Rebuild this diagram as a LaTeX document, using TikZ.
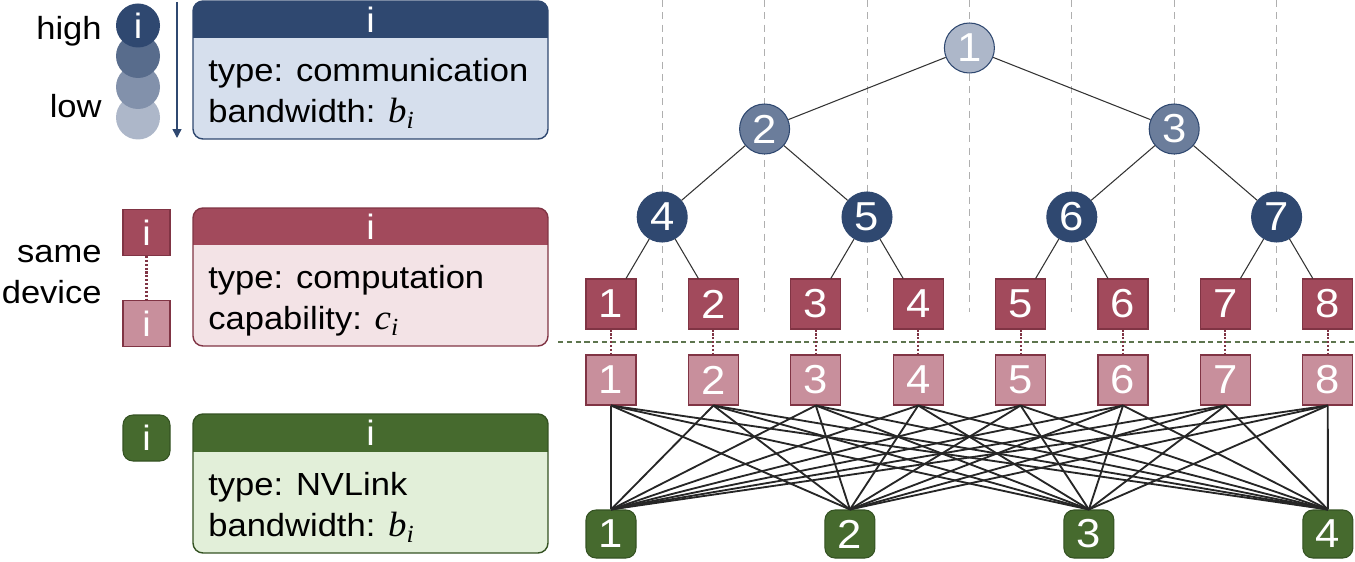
\documentclass[tikz,border=0pt]{standalone}
\usepackage{fontspec}
\setmainfont{Liberation Sans}[FakeStretch=1.08]
\newfontfamily\symbfont{Liberation Serif}[FakeStretch=1.05]
\usetikzlibrary{arrows.meta, positioning, calc}
\definecolor{navyA}{RGB}{47,72,112}
\definecolor{navyB}{RGB}{88,108,140}
\definecolor{navyC}{RGB}{130,145,171}
\definecolor{navyD}{RGB}{173,183,201}
\definecolor{navyMid}{RGB}{107,125,155}
\definecolor{commbg}{RGB}{214,223,237}
\definecolor{compdark}{RGB}{162,74,92}
\definecolor{complight}{RGB}{200,143,156}
\definecolor{compborder}{RGB}{128,52,68}
\definecolor{compbg}{RGB}{243,227,230}
\definecolor{linkgreen}{RGB}{70,106,46}
\definecolor{linkborder}{RGB}{52,82,34}
\definecolor{linkbg}{RGB}{226,239,217}
\definecolor{guidegray}{RGB}{175,175,175}
\newcommand{\nodenumfont}{\fontsize{23}{27}\selectfont}
\newcommand{\idxfont}{\fontsize{20}{24}\selectfont}
\newcommand{\legendfont}{\fontsize{18.2}{23.3}\selectfont}
\newcommand{\symb}[2]{{\symbfont\itshape\fontsize{20}{24}\selectfont #1}\raisebox{-0.4ex}{\symbfont\itshape\fontsize{14}{16}\selectfont #2}}

\begin{document}
\begin{tikzpicture}[
  commnode/.style={circle, draw=navyA, line width=0.6pt, minimum size=1cm, inner sep=0pt, text=white, font=\nodenumfont},
  levelmark/.style={circle, minimum size=0.88cm, inner sep=0pt, text=white, font=\idxfont},
  compnode/.style={rectangle, draw=compborder, line width=0.6pt, fill=compdark, minimum size=1cm, inner sep=0pt, text=white, font=\nodenumfont},
  devnode/.style={compnode, fill=complight},
  linknode/.style={rectangle, rounded corners=0.2cm, draw=linkborder, line width=0.6pt, fill=linkgreen, minimum width=1cm, minimum height=0.96cm, inner sep=0pt, text=white, font=\nodenumfont},
  smallmark/.style={minimum width=0.94cm, minimum height=0.92cm, font=\idxfont},
  sidetext/.style={anchor=base east, inner sep=0pt, font=\legendfont},
  headtext/.style={text=white, inner sep=0pt, font=\idxfont},
  bodytext/.style={anchor=west, align=left, inner sep=0pt, font=\legendfont},
  edge/.style={draw=black!80, line width=0.6pt},
  wire/.style={draw=black!85, line width=1.05pt},
  samedev/.style={draw=compborder, densely dotted, line width=1.2pt},
  guide/.style={draw=guidegray, dash pattern=on 4pt off 3pt, line width=0.5pt},
]
\useasboundingbox (0,0) rectangle (27.1,11.22);

% guide lines behind the tree
\foreach \k in {1,...,7}
  \draw[guide] ({12.22+2.048*(\k-0.5)},11.22) -- ++(0,-6.24);
\draw[linkborder!80, dash pattern=on 3pt off 2pt, line width=0.6pt] (11.16,4.38) -- (27.1,4.38);

% Legend: communication levels
\node[sidetext] (hi) at (2.04,10.42) {high};
\node[sidetext] (lo) at (2.04,8.86) {low};
\node[levelmark, fill=navyD] (s4) at (2.76,8.87) {};
\node[levelmark, fill=navyC] (s3) at (2.76,9.48) {};
\node[levelmark, fill=navyB] (s2) at (2.76,10.10) {};
\node[levelmark, fill=navyA] (s1) at (2.76,10.71) {i};
\draw[navyA, line width=0.8pt, -{Triangle[width=5pt,length=5pt]}] (3.54,11.18) -- (3.54,8.46);

\begin{scope}
  \clip[rounded corners=0.2cm] (3.86,8.44) rectangle (10.96,11.2);
  \fill[commbg] (3.86,8.44) rectangle (10.96,11.2);
  \fill[navyA] (3.86,10.46) rectangle (10.96,11.2);
\end{scope}
\draw[navyA, line width=0.8pt, rounded corners=0.2cm] (3.86,8.44) rectangle (10.96,11.2);
\node[headtext] (h1) at (7.41,10.83) {i};
\node[bodytext] (t1) at (4.16,9.35) {type: communication\\bandwidth: \symb{b}{i}};

% Legend: computation
\node[sidetext] (sa) at (2.04,5.98) {same};
\node[sidetext] (de) at (2.04,5.16) {device};
\node[compnode, smallmark] (lc) at (2.93,6.57) {i};
\node[devnode, smallmark] (ld) at (2.93,4.75) {i};
\draw[samedev] (lc) -- (ld);

\begin{scope}
  \clip[rounded corners=0.2cm] (3.86,4.30) rectangle (10.96,7.06);
  \fill[compbg] (3.86,4.30) rectangle (10.96,7.06);
  \fill[compdark] (3.86,6.32) rectangle (10.96,7.06);
\end{scope}
\draw[compborder, line width=0.8pt, rounded corners=0.2cm] (3.86,4.30) rectangle (10.96,7.06);
\node[headtext] (h2) at (7.41,6.69) {i};
\node[bodytext] (t2) at (4.16,5.21) {type: computation\\capability: \symb{c}{i}};

% Legend: NVLink
\node[linknode, smallmark] (lg) at (2.93,2.46) {i};

\begin{scope}
  \clip[rounded corners=0.2cm] (3.86,0.16) rectangle (10.96,2.94);
  \fill[linkbg] (3.86,0.16) rectangle (10.96,2.94);
  \fill[linkgreen] (3.86,2.18) rectangle (10.96,2.94);
\end{scope}
\draw[linkborder, line width=0.8pt, rounded corners=0.2cm] (3.86,0.16) rectangle (10.96,2.94);
\node[headtext] (h3) at (7.41,2.56) {i};
\node[bodytext] (t3) at (4.16,1.07) {type: NVLink\\bandwidth: \symb{b}{i}};

% Tree
\node[commnode, fill=navyD] (n1) at (19.388,10.26) {1};
\node[commnode, fill=navyMid] (n2) at (15.292,8.64) {2};
\node[commnode, fill=navyMid] (n3) at (23.484,8.64) {3};
\node[commnode, fill=navyA] (n4) at (13.244,6.88) {4};
\node[commnode, fill=navyA] (n5) at (17.34,6.88) {5};
\node[commnode, fill=navyA] (n6) at (21.436,6.88) {6};
\node[commnode, fill=navyA] (n7) at (25.532,6.88) {7};

\foreach \i in {1,...,8} {
  \node[compnode] (c\i) at ({12.22+2.048*(\i-1)},5.14) {\i};
  \node[devnode] (d\i) at ({12.22+2.048*(\i-1)},3.62) {\i};
  \draw[samedev] (c\i) -- (d\i);
}
\foreach \j in {1,...,4}
  \node[linknode] (g\j) at ({12.22+4.779*(\j-1)},0.54) {\j};

\draw[edge] (n1) -- (n2);
\draw[edge] (n1) -- (n3);
\draw[edge] (n2) -- (n4);
\draw[edge] (n2) -- (n5);
\draw[edge] (n3) -- (n6);
\draw[edge] (n3) -- (n7);
\draw[edge] (n4) -- (c1);
\draw[edge] (n4) -- (c2);
\draw[edge] (n5) -- (c3);
\draw[edge] (n5) -- (c4);
\draw[edge] (n6) -- (c5);
\draw[edge] (n6) -- (c6);
\draw[edge] (n7) -- (c7);
\draw[edge] (n7) -- (c8);

% NVLink wiring
\foreach \i in {1,...,8}
  \foreach \j in {1,...,4}
    \draw[wire] (d\i.south) -- (g\j.north);
\end{tikzpicture}
\end{document}
